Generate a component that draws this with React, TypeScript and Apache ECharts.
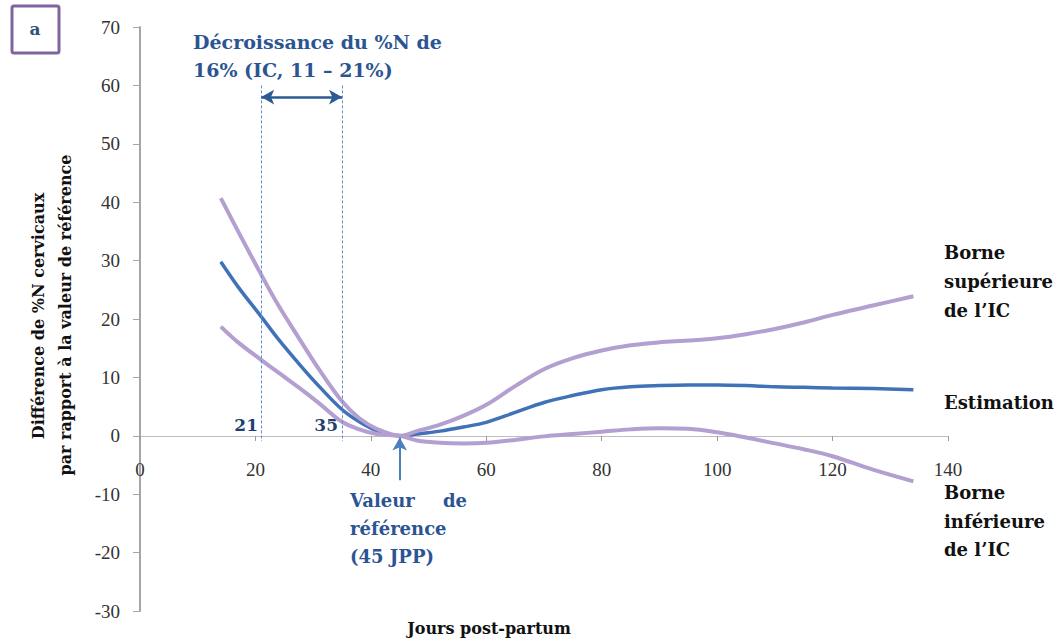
import React, { useEffect, useRef } from "react";
import * as echarts from "echarts";

const days = [14, 17, 21, 24, 28, 31, 35, 38, 41, 45, 48, 52, 56, 60, 65, 70, 75, 80, 85, 90, 95, 100, 105, 110, 115, 120, 127, 134];
const estimation = [29.8, 25.5, 20.4, 16.5, 11.8, 8.5, 4.5, 2.4, 0.9, 0, 0.3, 0.8, 1.5, 2.3, 4.0, 5.7, 6.9, 7.9, 8.4, 8.6, 8.7, 8.7, 8.6, 8.4, 8.3, 8.2, 8.1, 7.9];
const upperBound = [40.7, 35.0, 27.6, 22.3, 16.0, 11.4, 5.9, 3.0, 1.2, 0, 0.8, 1.9, 3.4, 5.3, 8.5, 11.4, 13.3, 14.6, 15.5, 16.0, 16.3, 16.7, 17.4, 18.3, 19.4, 20.7, 22.3, 23.9];
const lowerBound = [18.7, 16.0, 13.0, 10.8, 7.9, 5.6, 2.4, 1.1, 0.3, 0, -0.8, -1.2, -1.3, -1.2, -0.7, -0.1, 0.3, 0.7, 1.1, 1.3, 1.2, 0.6, -0.3, -1.3, -2.3, -3.5, -5.8, -7.8];

const ciStart = 21;
const ciEnd = 35;
const refDay = 45;

const serif = "DejaVu Serif";

export default function App() {
  const ref = useRef<HTMLDivElement>(null);
  useEffect(() => {
    if (!ref.current) return;
    const chart = echarts.init(ref.current, undefined, { renderer: "svg" });
    const pairs = (ys: number[]) => days.map((d, i) => [d, ys[i]]);
    const purple = "#b39fd0";
    const blue = "#3f72b7";
    const annBlue = "#2b5592";
    const txt = (x: number, y: number, text: string, extra: any = {}) => ({
      type: "text",
      x,
      y,
      style: {
        text,
        fontFamily: serif,
        fontWeight: "bold",
        fontSize: 18,
        fill: "#111",
        textVerticalAlign: "middle",
        ...extra,
      },
    });
    chart.setOption({
      animation: false,
      grid: { left: 140, right: 114, top: 27, bottom: 31, containLabel: false, outerBoundsMode: "none" },
      xAxis: {
        type: "value",
        min: 0,
        max: 140,
        interval: 20,
        offset: -175,
        axisLine: { onZero: false, lineStyle: { color: "#bdbdbd", width: 1 } },
        axisTick: { show: true, length: 5, lineStyle: { color: "#9a9a9a" } },
        axisLabel: { margin: 24, fontFamily: "Liberation Serif", fontSize: 19, color: "#333" },
        splitLine: { show: false },
      },
      yAxis: {
        type: "value",
        min: -30,
        max: 70,
        interval: 10,
        axisLine: { show: true, lineStyle: { color: "#a6a6a6", width: 2 } },
        axisTick: { show: true, length: 7, lineStyle: { color: "#a6a6a6" } },
        axisLabel: { margin: 20, fontFamily: "Liberation Serif", fontSize: 19, color: "#333" },
        splitLine: { show: false },
      },
      series: [
        {
          name: "Estimation",
          type: "line",
          smooth: 0.35,
          showSymbol: false,
          data: pairs(estimation),
          lineStyle: { color: blue, width: 3.5 },
          z: 2,
        },
        {
          name: "Borne supérieure",
          type: "line",
          smooth: 0.35,
          showSymbol: false,
          data: pairs(upperBound),
          lineStyle: { color: purple, width: 4 },
          z: 3,
        },
        {
          name: "Borne inférieure",
          type: "line",
          smooth: 0.35,
          showSymbol: false,
          data: pairs(lowerBound),
          lineStyle: { color: purple, width: 4 },
          z: 3,
        },
        {
          type: "line",
          data: [],
          markLine: {
            silent: true,
            symbol: ["none", "none"],
            label: { show: false },
            lineStyle: { color: "#5b8fd0", width: 1, type: [3, 2] },
            data: [
              [{ coord: [ciStart, 60] }, { coord: [ciStart, -0.9] }],
              [{ coord: [ciEnd, 60] }, { coord: [ciEnd, -0.9] }],
            ],
          },
        },
        {
          type: "line",
          data: [],
          markLine: {
            silent: true,
            symbol: ["arrow", "arrow"],
            symbolSize: [11, 13],
            label: { show: false },
            lineStyle: { color: "#2c5a92", width: 2.5, type: "solid" },
            data: [[{ coord: [ciStart, 58] }, { coord: [ciEnd, 58] }]],
          },
        },
        {
          type: "line",
          data: [],
          markLine: {
            silent: true,
            symbol: ["none", "arrow"],
            symbolSize: [11, 13],
            label: { show: false },
            lineStyle: { color: "#4a7fc0", width: 2, type: "solid" },
            data: [[{ coord: [refDay, -7.6] }, { coord: [refDay, -0.3] }]],
          },
        },
      ],
      graphic: [
        {
          type: "rect",
          shape: { x: 12, y: 6, width: 47, height: 47, r: 2 },
          style: { fill: "#fff", stroke: "#8064a2", lineWidth: 3 },
        },
        txt(35, 29, "a", { fill: "#2e4f7e", fontSize: 17, textAlign: "center" }),
        txt(193, 42, "Décroissance du %N de", { fill: annBlue, fontSize: 19 }),
        txt(193, 70, "16% (IC, 11 – 21%)", { fill: annBlue, fontSize: 19 }),
        txt(258, 425, "21", { fill: "#1f3f6e", fontSize: 17, textAlign: "right" }),
        txt(338, 425, "35", { fill: "#1f3f6e", fontSize: 17, textAlign: "right" }),
        txt(350, 500, "Valeur", { fill: annBlue }),
        txt(467, 500, "de", { fill: annBlue, textAlign: "right" }),
        txt(350, 528, "référence", { fill: annBlue }),
        txt(350, 556, "(45 JPP)", { fill: annBlue }),
        txt(944, 252, "Borne"),
        txt(944, 281, "supérieure"),
        txt(944, 310, "de l’IC"),
        txt(944, 402, "Estimation"),
        txt(944, 492, "Borne"),
        txt(944, 521, "inférieure"),
        txt(944, 549, "de l’IC"),
        txt(489, 628, "Jours post-partum", { fontSize: 16, textAlign: "center" }),
        {
          type: "text",
          x: 38,
          y: 316,
          rotation: Math.PI / 2,
          style: {
            text: "Différence de %N cervicaux",
            fontFamily: serif,
            fontWeight: "bold",
            fontSize: 16,
            fill: "#111",
            textAlign: "center",
            textVerticalAlign: "middle",
          },
        },
        {
          type: "text",
          x: 65,
          y: 315,
          rotation: Math.PI / 2,
          style: {
            text: "par rapport à la valeur de référence",
            fontFamily: serif,
            fontWeight: "bold",
            fontSize: 16,
            fill: "#111",
            textAlign: "center",
            textVerticalAlign: "middle",
          },
        },
      ],
    });
    return () => chart.dispose();
  }, []);
  return (
    <div
      ref={ref}
      style={{ position: "fixed", left: 0, top: 0, width: 1062, height: 642, background: "#fff" }}
    />
  );
}
